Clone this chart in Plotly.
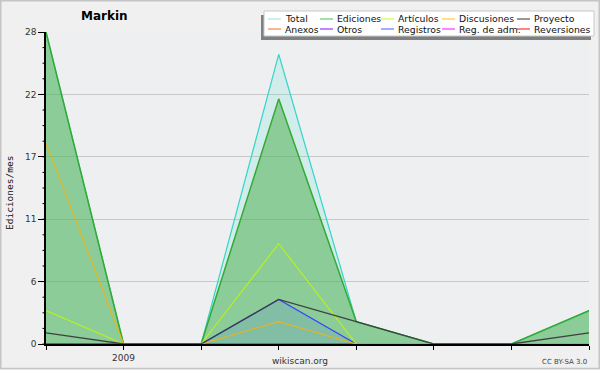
import plotly.graph_objects as go

# ---- data ----
months = ["2008-12", "2009-01", "2009-02", "2009-03", "2009-04", "2009-05", "2009-06", "2009-07"]
x_ticktext = ["", "2009", "", "", "", "", "", ""]
total = [28, 0, 0, 26, 2, 0, 0, 3]
ediciones = [28, 0, 0, 22, 2, 0, 0, 3]
articulos = [3, 0, 0, 9, 0, 0, 0, 0]
discusiones = [18, 0, 0, 2, 0, 0, 0, 0]
proyecto = [1, 0, 0, 4, 2, 0, 0, 1]
anexos = [0, 0, 0, 0, 0, 0, 0, 0]
otros = [0, 0, 0, 0, 0, 0, 0, 0]
registros = [0, 0, 0, 4, 0, 0, 0, 0]
reg_adm = [0, 0, 0, 0, 0, 0, 0, 0]
reversiones = [0, 0, 0, 0, 0, 0, 0, 0]
y_tickvals = [0, 5.6, 11.2, 16.8, 22.4, 28]
y_ticktext = ["0", "6", "11", "17", "22", "28"]
y_minor_step = 1.4

legend_names = ["Total", "Ediciones", "Artículos", "Discusiones", "Proyecto",
                "Anexos", "Otros", "Registros", "Reg. de adm.", "Reversiones"]
legend_colors = ["#a8e8e2", "#66cc66", "#ccff33", "#ffcc33", "#555555",
                 "#ff8040", "#9933ff", "#6677ff", "#ff33ff", "#ff3333"]

W, H = 600, 370
L, R, T, B = 46, 11, 32, 26
PW, PH = W - L - R, H - T - B


def px(x):
    return (x - L) / PW


def py(y):
    return (H - B - y) / PH


xi = list(range(len(months)))
fig = go.Figure()

fig.add_trace(go.Scatter(x=xi, y=total, mode="lines", fill="tozeroy",
                         fillcolor="rgba(64,224,208,0.17)",
                         line=dict(color="#35d6c6", width=1.2)))
fig.add_trace(go.Scatter(x=xi, y=ediciones, mode="lines", fill="tozeroy",
                         fillcolor="rgba(70,172,70,0.5)",
                         line=dict(color="#33aa33", width=1.5)))
for ys, col in [(anexos, "#ff8040"), (otros, "#9933ff"), (reg_adm, "#ff33ff"),
                (reversiones, "#ff3333")]:
    fig.add_trace(go.Scatter(x=xi, y=ys, mode="lines", line=dict(color=col, width=1)))
fig.add_trace(go.Scatter(x=xi, y=registros, mode="lines", fill="tozeroy",
                         fillcolor="rgba(70,90,255,0.13)",
                         line=dict(color="#3344ff", width=1.2)))
fig.add_trace(go.Scatter(x=xi, y=articulos, mode="lines",
                         line=dict(color="#b8f020", width=1.2)))
fig.add_trace(go.Scatter(x=xi, y=discusiones, mode="lines",
                         line=dict(color="#e6b422", width=1.2)))
fig.add_trace(go.Scatter(x=xi, y=proyecto, mode="lines",
                         line=dict(color="#404040", width=1.3)))

fig.update_traces(showlegend=False, hoverinfo="skip")

shapes = []
annotations = []

# outer border
shapes.append(dict(type="rect", xref="paper", yref="paper",
                   x0=px(0.75), x1=px(W - 0.75), y0=py(0.75), y1=py(H - 1.5),
                   line=dict(color="#c4c4c4", width=1.5), fillcolor="rgba(0,0,0,0)",
                   layer="below"))

# minor y ticks (axis-value based)
n_minor = int(round(28 / y_minor_step))
for i in range(n_minor + 1):
    v = i * y_minor_step
    shapes.append(dict(type="line", xref="paper", yref="y",
                       x0=px(42.5), x1=px(46), y0=v, y1=v,
                       line=dict(color="#000000", width=1), layer="above"))

# legend box with shadow
shapes.append(dict(type="rect", xref="paper", yref="paper",
                   x0=px(261), x1=px(591), y0=py(15), y1=py(40),
                   line=dict(width=0), fillcolor="#808080", layer="above"))
shapes.append(dict(type="rect", xref="paper", yref="paper",
                   x0=px(264), x1=px(594), y0=py(11), y1=py(36),
                   line=dict(color="#c8c8c8", width=1), fillcolor="#ffffff", layer="above"))
col_x = [268, 320, 381, 442, 517]
row_y = [19, 29]
for i, (nm, c) in enumerate(zip(legend_names, legend_colors)):
    r, k = divmod(i, 5)
    x0 = col_x[k]
    y0 = row_y[r]
    shapes.append(dict(type="line", xref="paper", yref="paper",
                       x0=px(x0), x1=px(x0 + 13), y0=py(y0), y1=py(y0),
                       line=dict(color=c, width=1.2), layer="above"))
    annotations.append(dict(xref="paper", yref="paper", x=px(x0 + 15), y=py(y0),
                            text=nm, showarrow=False, xanchor="left", yanchor="middle",
                            font=dict(family="DejaVu Sans", size=9.3, color="#111111")))

# title and footer texts
annotations.append(dict(xref="paper", yref="paper", x=px(104), y=py(16), text="<b>Markin</b>",
                        showarrow=False, xanchor="center", yanchor="middle",
                        font=dict(family="DejaVu Sans", size=12, color="#000000")))
annotations.append(dict(xref="paper", yref="paper", x=px(300), y=py(361), text="wikiscan.org",
                        showarrow=False, xanchor="center", yanchor="middle",
                        font=dict(family="DejaVu Sans", size=9, color="#333333")))
annotations.append(dict(xref="paper", yref="paper", x=px(589), y=py(362), text="CC BY-SA 3.0",
                        showarrow=False, xanchor="right", yanchor="middle",
                        font=dict(family="DejaVu Sans", size=7, color="#444444")))
annotations.append(dict(xref="paper", yref="paper", x=px(10), y=py(193), text="Ediciones/mes",
                        showarrow=False, xanchor="center", yanchor="middle", textangle=-90,
                        font=dict(family="DejaVu Sans Mono", size=9.5, color="#111111")))

fig.update_layout(
    width=W, height=H,
    margin=dict(l=L, r=R, t=T, b=B, pad=0, autoexpand=False),
    paper_bgcolor="#f0f0f0",
    plot_bgcolor="#eeeff1",
    shapes=shapes,
    annotations=annotations,
    showlegend=False,
    xaxis=dict(range=[0, len(months) - 1], tickmode="array", tickvals=xi,
               ticktext=x_ticktext, ticks="outside", ticklen=4, tickcolor="#000",
               tickwidth=1.2, showgrid=False, zeroline=False, showline=True,
               linecolor="#000", linewidth=1.5, automargin=False,
               tickfont=dict(family="DejaVu Sans", size=9, color="#333333"),
               fixedrange=True),
    yaxis=dict(range=[0, 28], tickmode="array", tickvals=y_tickvals,
               ticktext=y_ticktext, ticks="outside", ticklen=6, tickcolor="#000",
               tickwidth=1, showgrid=True, gridcolor="#c8c8c8", gridwidth=1,
               zeroline=False, showline=True, linecolor="#000", linewidth=1.5,
               automargin=False,
               tickfont=dict(family="DejaVu Sans", size=9, color="#333333"),
               fixedrange=True),
)

fig.write_html("out.html")
